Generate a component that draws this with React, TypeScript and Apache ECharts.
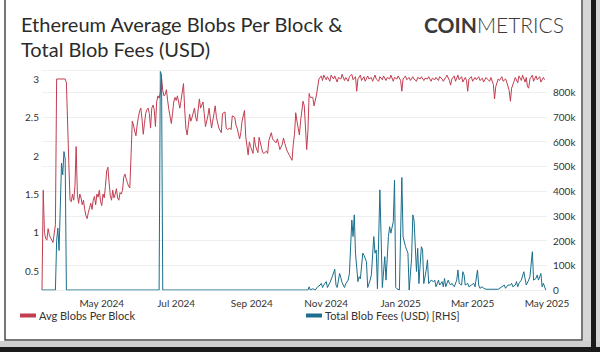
import React, { useEffect, useRef } from 'react';
import * as echarts from 'echarts';

// ---- categories: one per day, 2024-03-13 .. 2025-05-01 ----
const START_UTC = Date.UTC(2024, 2, 13);
const DAY_COUNT = 415;
const MONTH_NAMES = ['Jan', 'Feb', 'Mar', 'Apr', 'May', 'Jun', 'Jul', 'Aug', 'Sep', 'Oct', 'Nov', 'Dec'];
const LABEL_MONTHS = [1, 3, 5, 7, 9, 11];
const categories: string[] = Array.from({ length: DAY_COUNT }, (_, i) => {
  const dt = new Date(START_UTC + i * 86400000);
  const m = String(dt.getUTCMonth() + 1).padStart(2, '0');
  const d = String(dt.getUTCDate()).padStart(2, '0');
  return `${dt.getUTCFullYear()}-${m}-${d}`;
});

// left axis tick labels
const LEFT_TICKS = [0.5, 1, 1.5, 2, 2.5, 3];

// ---- Avg Blobs Per Block: [day index, value] ----
const avgBlobsPerBlock: [number, number][] = [
  [0, 0.25], [1, 1.55], [2, 1.0], [3, 0.92], [4, 0.9], [5, 1.05], [6, 0.97], [7, 0.93], [9, 0.87], [11, 1.1],
  [12, 3.0], [19, 3.0], [20, 2.95], [22, 1.9], [23, 1.42], [24, 1.4], [25, 1.5], [26, 1.42], [27, 1.6], [28, 2.12],
  [29, 1.5], [30, 1.38], [31, 1.5], [32, 1.45], [33, 1.36], [34, 1.42], [35, 1.3], [36, 1.22], [37, 1.18], [38, 1.26],
  [39, 1.32], [40, 1.38], [41, 1.3], [42, 1.42], [43, 1.47], [44, 1.36], [45, 1.5], [46, 1.46], [47, 1.55], [48, 1.4],
  [49, 1.35], [50, 1.5], [51, 1.45], [52, 1.6], [53, 1.8], [54, 1.85], [55, 1.65], [56, 1.48], [57, 1.42], [58, 1.55],
  [59, 1.45], [60, 1.5], [61, 1.57], [62, 1.45], [63, 1.42], [64, 1.52], [65, 1.5], [66, 1.55], [67, 1.72], [68, 1.76],
  [69, 1.7], [70, 1.65], [71, 1.6], [72, 1.58], [73, 2.0], [74, 2.45], [75, 2.4], [76, 2.32], [77, 2.26], [78, 2.4],
  [79, 2.5], [80, 2.58], [81, 2.62], [82, 2.48], [83, 2.28], [84, 2.42], [85, 2.55], [86, 2.6], [87, 2.62], [88, 2.55],
  [89, 2.36], [90, 2.62], [91, 2.66], [92, 2.6], [93, 2.38], [94, 2.7], [95, 2.78], [96, 2.75], [97, 2.82], [98, 3.01],
  [99, 2.85], [100, 2.78], [101, 2.8], [102, 2.86], [103, 2.72], [104, 2.6], [106, 2.42], [107, 2.55], [108, 2.7], [109, 2.76],
  [110, 2.72], [111, 2.78], [113, 2.62], [114, 2.72], [116, 2.94], [117, 2.6], [118, 2.35], [119, 2.27], [121, 2.54], [122, 2.45],
  [123, 2.5], [125, 2.62], [126, 2.5], [127, 2.45], [129, 2.74], [130, 2.62], [132, 2.7], [133, 2.55], [134, 2.38], [136, 2.52],
  [137, 2.62], [138, 2.48], [139, 2.36], [141, 2.55], [142, 2.65], [143, 2.5], [145, 2.36], [147, 2.3], [148, 2.55], [150, 2.57],
  [151, 2.36], [152, 2.34], [154, 2.36], [155, 2.34], [156, 2.52], [158, 2.5], [159, 2.4], [160, 2.36], [162, 2.22], [163, 2.3],
  [164, 2.45], [166, 2.59], [167, 2.25], [169, 2.01], [170, 2.18], [171, 2.12], [173, 2.03], [174, 2.24], [175, 2.13], [177, 2.04],
  [178, 2.24], [180, 2.1], [181, 2.04], [182, 2.03], [184, 2.06], [185, 2.03], [186, 2.2], [188, 2.3], [189, 2.22], [191, 2.18],
  [192, 2.17], [193, 2.22], [195, 2.08], [197, 2.15], [198, 2.23], [199, 2.16], [201, 2.06], [203, 2.0], [205, 1.94], [206, 2.15],
  [207, 2.28], [208, 2.56], [209, 2.45], [211, 2.27], [212, 2.45], [214, 2.71], [215, 2.65], [217, 2.08], [218, 2.32], [219, 2.81],
  [220, 2.76], [222, 2.76], [223, 2.65], [225, 2.79], [227, 3.0], [229, 3.04], [230, 2.98], [231, 3.05], [233, 2.99], [234, 3.03],
  [236, 2.97], [237, 3.05], [239, 3.0], [240, 3.04], [242, 2.96], [243, 3.02], [245, 3.0], [246, 3.06], [248, 2.98], [249, 3.02],
  [251, 2.97], [252, 3.03], [254, 3.06], [255, 2.99], [257, 3.03], [258, 2.84], [259, 3.0], [261, 3.05], [262, 2.98], [264, 3.03],
  [265, 2.97], [267, 3.04], [268, 3.0], [270, 3.02], [271, 2.97], [273, 3.05], [274, 3.0], [276, 2.97], [277, 3.03], [279, 2.99],
  [280, 3.04], [282, 2.98], [283, 3.02], [285, 3.0], [286, 3.05], [288, 2.97], [289, 3.02], [291, 3.0], [292, 3.04], [294, 2.98],
  [295, 2.84], [296, 3.0], [298, 3.04], [299, 2.99], [301, 3.02], [302, 2.98], [304, 3.03], [305, 3.0], [307, 2.97], [308, 3.02],
  [310, 3.0], [311, 3.03], [313, 2.98], [314, 3.01], [316, 3.0], [317, 3.03], [319, 2.97], [320, 3.01], [322, 2.99], [323, 3.02],
  [325, 2.98], [326, 3.03], [328, 3.0], [329, 2.97], [331, 3.02], [332, 3.05], [334, 2.98], [335, 2.92], [336, 3.0], [338, 3.04],
  [339, 2.97], [341, 3.05], [342, 2.99], [344, 3.03], [345, 2.96], [347, 3.02], [348, 2.98], [349, 2.84], [350, 3.0], [352, 3.03],
  [353, 2.97], [355, 3.02], [356, 2.99], [358, 3.03], [359, 2.98], [361, 3.01], [362, 2.96], [364, 3.02], [365, 3.0], [367, 2.97],
  [368, 3.02], [370, 2.93], [371, 2.74], [372, 2.9], [374, 3.0], [375, 2.98], [377, 3.03], [378, 2.97], [380, 3.0], [381, 2.96],
  [383, 2.85], [384, 2.71], [385, 2.88], [387, 2.97], [388, 3.02], [390, 2.95], [391, 3.04], [393, 2.98], [394, 3.05], [396, 2.96],
  [397, 3.02], [398, 2.9], [399, 2.88], [400, 3.0], [402, 3.05], [403, 2.97], [405, 3.04], [406, 2.99], [408, 3.03], [409, 2.96],
  [411, 3.02], [412, 2.99],
];

// ---- Total Blob Fees (USD): [day index, value] ----
const totalBlobFeesUsd: [number, number][] = [
  [0, 0], [11, 0], [12, 200000], [13, 250000], [14, 160000], [16, 513000], [17, 466000], [18, 560000], [19, 530000], [20, 0],
  [96, 0], [97, 884000], [98, 870000], [99, 0], [218, 0], [219, 13000], [220, 0], [222, 5000], [224, 0], [226, 13000],
  [228, 20000], [229, 27000], [230, 10000], [231, 20000], [233, 34000], [234, 10000], [236, 30000], [238, 54000], [240, 84000], [241, 20000],
  [242, 10000], [244, 67000], [245, 50000], [246, 30000], [248, 10000], [249, 25000], [251, 40000], [252, 67000], [254, 283000], [255, 216000],
  [256, 304000], [257, 149000], [259, 34000], [260, 54000], [261, 45000], [263, 149000], [264, 140000], [266, 115000], [267, 10000], [269, 40000],
  [270, 61000], [272, 216000], [273, 149000], [274, 162000], [275, 5000], [277, 405000], [278, 216000], [279, 10000], [281, 135000], [282, 40000],
  [284, 216000], [285, 256000], [286, 230000], [288, 277000], [289, 445000], [290, 10000], [291, 5000], [293, 0], [295, 455000], [296, 216000],
  [298, 175000], [299, 162000], [300, 149000], [301, 0], [303, 128000], [304, 304000], [305, 283000], [307, 75000], [308, 169000], [309, 26000],
  [311, 175000], [312, 162000], [313, 26000], [315, 81000], [316, 122000], [317, 26000], [319, 40000], [321, 34000], [322, 40000], [323, 13000],
  [325, 40000], [326, 20000], [328, 34000], [329, 13000], [330, 47000], [331, 13000], [333, 40000], [334, 27000], [335, 20000], [336, 27000],
  [338, 13000], [340, 40000], [341, 81000], [342, 27000], [344, 20000], [345, 74000], [346, 61000], [347, 20000], [349, 27000], [350, 13000],
  [352, 20000], [354, 27000], [355, 13000], [357, 81000], [358, 20000], [359, 7000], [361, 13000], [362, 7000], [364, 3000], [374, 3000],
  [377, 13000], [379, 20000], [380, 7000], [382, 20000], [384, 20000], [385, 27000], [386, 13000], [388, 20000], [389, 34000], [390, 13000],
  [391, 27000], [393, 40000], [395, 74000], [396, 47000], [397, 20000], [399, 40000], [400, 54000], [402, 155000], [403, 40000], [405, 47000],
  [406, 61000], [407, 40000], [409, 67000], [410, 13000], [411, 27000], [413, 0],
];

const RED = '#c03e50';
const BLUE = '#1b6f8c';
const FONT = 'Lato';

export default function App() {
  const ref = useRef<HTMLDivElement>(null);

  useEffect(() => {
    if (!ref.current) return;
    const chart = echarts.init(ref.current, undefined, { renderer: 'svg' });
    chart.setOption({
      animation: false,
      backgroundColor: '#ffffff',
      textStyle: { fontFamily: FONT },
      title: [
        {
          text: 'Ethereum Average Blobs Per Block &\nTotal Blob Fees (USD)',
          left: 16,
          top: 6,
          textStyle: { fontFamily: FONT, fontSize: 20, fontWeight: 'normal', color: '#2b2b2b', lineHeight: 25 },
        },
        {
          text: '{a|COIN}{b|METRICS}',
          right: 31,
          top: 9,
          textStyle: {
            rich: {
              a: { fontFamily: FONT, fontSize: 21, fontWeight: 'bold', color: '#3b3b3b' },
              b: { fontFamily: FONT, fontSize: 21, fontWeight: 300, color: '#3b3b3b' },
            },
          },
        },
      ],
      legend: [
        {
          data: ['Avg Blobs Per Block'],
          left: 15,
          top: 305,
          icon: 'rect',
          itemWidth: 16,
          itemHeight: 4,
          itemGap: 4,
          textStyle: { fontFamily: FONT, fontSize: 11, color: '#333', padding: [0, 0, 0, -2] },
        },
        {
          data: ['Total Blob Fees (USD) [RHS]'],
          left: 301,
          top: 305,
          icon: 'rect',
          itemWidth: 16,
          itemHeight: 4,
          textStyle: { fontFamily: FONT, fontSize: 11, color: '#333', padding: [0, 0, 0, -2] },
        },
      ],
      grid: { left: 42, right: 53, top: 70, bottom: 62 },
      xAxis: {
        type: 'category',
        data: categories,
        boundaryGap: false,
        axisLine: { show: false },
        axisTick: { show: false },
        splitLine: { show: false },
        axisLabel: {
          fontFamily: FONT,
          fontSize: 10,
          color: '#333',
          margin: 8,
          interval: (_i: number, v: string) => v.endsWith('-01') && LABEL_MONTHS.includes(Number(v.slice(5, 7))),
          formatter: (v: string) => `${MONTH_NAMES[Number(v.slice(5, 7)) - 1]} ${v.slice(0, 4)}`,
        },
      },
      yAxis: [
        {
          type: 'value',
          position: 'left',
          min: 0.25,
          max: 3.117,
          interval: 0.25,
          splitLine: { show: false },
          axisLine: { show: false },
          axisTick: { show: false },
          axisLabel: {
            fontFamily: FONT,
            fontSize: 10,
            color: '#333',
            margin: 3,
            showMaxLabel: false,
            formatter: (v: number) => {
              const hit = LEFT_TICKS.find((t) => Math.abs(t - v) < 1e-6);
              return hit !== undefined ? String(hit) : '';
            },
          },
        },
        {
          type: 'value',
          position: 'right',
          min: 0,
          max: 890000,
          interval: 100000,
          splitLine: { show: true, lineStyle: { color: '#efefef', width: 1 } },
          axisLine: { show: false },
          axisTick: { show: false },
          axisLabel: {
            fontFamily: FONT,
            fontSize: 10,
            color: '#333',
            margin: 6,
            showMaxLabel: false,
            formatter: (v: number) => (v === 0 ? '0' : `${Math.round(v / 1000)}k`),
          },
        },
      ],
      series: [
        {
          name: 'Avg Blobs Per Block',
          type: 'line',
          yAxisIndex: 0,
          data: avgBlobsPerBlock,
          showSymbol: false,
          symbol: 'none',
          lineStyle: { color: RED, width: 1 },
          itemStyle: { color: RED },
        },
        {
          name: 'Total Blob Fees (USD) [RHS]',
          type: 'line',
          yAxisIndex: 1,
          data: totalBlobFeesUsd,
          showSymbol: false,
          symbol: 'none',
          lineStyle: { color: BLUE, width: 1 },
          itemStyle: { color: BLUE },
        },
      ],
      graphic: [
        {
          type: 'rect',
          silent: true,
          z: 100,
          shape: { x: 5, y: -2, width: 577, height: 342 },
          style: { fill: 'none', stroke: '#4a4a4a', lineWidth: 1.5 },
        },
        {
          type: 'rect',
          silent: true,
          z: 99,
          shape: { x: 583, y: 0, width: 17, height: 352 },
          style: { fill: '#d6d6d6' },
        },
        {
          type: 'rect',
          silent: true,
          z: 99,
          shape: { x: 0, y: 341, width: 600, height: 11 },
          style: { fill: '#cfcfcf' },
        },
        {
          type: 'rect',
          silent: true,
          z: 100,
          shape: { x: 591, y: 0, width: 5, height: 352 },
          style: { fill: '#1a1a1a' },
        },
        {
          type: 'rect',
          silent: true,
          z: 100,
          shape: { x: 0, y: 347, width: 600, height: 5 },
          style: { fill: '#1a1a1a' },
        },
      ],
    });
    return () => chart.dispose();
  }, []);

  return (
    <div
      ref={ref}
      style={{ position: 'fixed', left: 0, top: 0, width: 600, height: 352, background: '#fff' }}
    />
  );
}
